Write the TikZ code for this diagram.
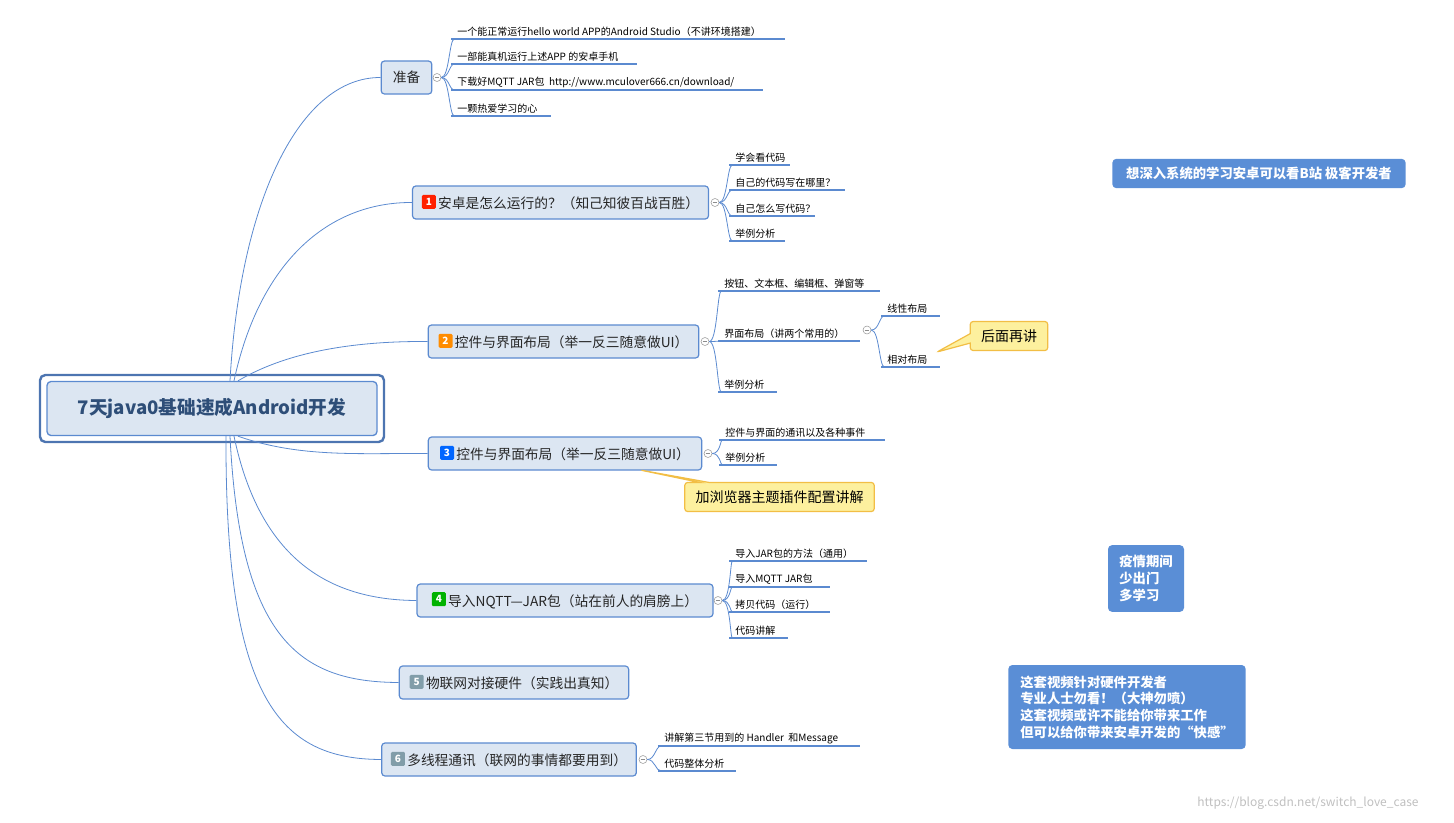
\documentclass[tikz,border=0pt]{standalone}
\usepackage{fontspec}
\setmainfont{Noto Sans CJK SC}
\usetikzlibrary{shapes.callouts}
\definecolor{ln}{HTML}{5B8AD0}
\definecolor{tfill}{HTML}{DCE6F2}
\definecolor{bluebox}{HTML}{5A8ED6}
\definecolor{yfill}{HTML}{FDF09E}
\definecolor{yline}{HTML}{F2BE45}
\definecolor{roottxt}{HTML}{2E4E78}
\tikzset{
  topic/.style={draw=ln,fill=tfill,rounded corners=2.5pt,line width=0.9pt,minimum height=24.75pt,inner xsep=4pt,font=\fontsize{10.3}{13}\selectfont,text=black!85},
  leaftxt/.style={anchor=south west,inner sep=1.5pt,font=\fontsize{7.5}{9}\selectfont},
  uline/.style={draw=ln,line width=1.2pt},
  br/.style={draw=ln,line width=0.6pt},
  coll/.style={circle,draw=black!40,fill=white,inner sep=0pt,minimum size=6pt,line width=0.4pt},
  badge/.style={fill=#1,text=white,rounded corners=1pt,inner sep=1.5pt,minimum size=10.5pt,font=\fontsize{7.5}{8}\selectfont\bfseries},
  info/.style={fill=bluebox,rounded corners=3pt,text=white,align=left,font=\fontsize{10}{12.5}\selectfont\bfseries,inner xsep=8pt,inner ysep=5pt},
  note/.style={rectangle callout,draw=yline,fill=yfill,line width=0.9pt,rounded corners=2pt,font=\fontsize{10.5}{12}\selectfont,inner xsep=8pt,inner ysep=6pt}
}
\newcommand\mkleaf[6]{% name, collapse node, y, textx, xend, text
  \node[leaftxt] (#1) at (#4,#3) {#6};
  \coordinate (#1e) at (#5,#3);
  \draw[br] (#2.east) .. controls ([xshift=6pt]#2.east) and ([xshift=6pt]#2.east |- #1.south) .. ([xshift=-0.5pt]#1.south west);
  \draw[uline] ([xshift=-3pt]#1.south west) -- (#1e);
}
\begin{document}
\begin{tikzpicture}[x=0.75pt,y=-0.75pt]
\useasboundingbox (0,0) rectangle (1454,822);
% root
\draw[draw=ln!85!black,line width=1.8pt,rounded corners=4pt] (40,375) rectangle (384,442);
\node[draw=ln,fill=tfill,line width=1pt,rounded corners=3pt,minimum width=247.5pt,minimum height=40.5pt,font=\fontsize{14}{16}\selectfont\bfseries,text=roottxt] (root) at (212,408.5) {7天java0基础速成Android开发};
% topics
\node[topic,minimum width=38pt] (t0) at (406.5,77.5) {准备};
\node[topic,minimum width=222pt] (t1) at (560.5,202.5) {\tikz\node[badge=red!75!orange]{1};\,安卓是怎么运行的？（知己知彼百战百胜）};
\node[topic,minimum width=203pt] (t2) at (563.5,341.5) {\tikz\node[badge=orange!90!yellow]{2};\,控件与界面布局（举一反三随意做UI）};
\node[topic,minimum width=205pt] (t3) at (565,453.5) {\tikz\node[badge=blue!60!cyan]{3};\,控件与界面布局（举一反三随意做UI）};
\node[topic,minimum width=222pt] (t4) at (565,600.5) {\tikz\node[badge=green!70!black]{4};\,导入NQTT—JAR包（站在前人的肩膀上）};
\node[topic,minimum width=172pt] (t5) at (514,682.5) {\tikz\node[badge=cyan!25!gray]{5};\,物联网对接硬件（实践出真知）};
\node[topic,minimum width=191pt] (t6) at (509,759.5) {\tikz\node[badge=cyan!25!gray]{6};\,多线程通讯（联网的事情都要用到）};
% root connectors
\draw[br] (root.north) ++(18,0) .. controls (240,200) and (300,77) .. (t0.west);
\draw[br] (root.north) ++(22,0) .. controls (260,260) and (330,202) .. (t1.west);
\draw[br] (root.north) ++(26,0) .. controls (290,350) and (360,341) .. (t2.west);
\draw[br] (root.south) ++(26,0) .. controls (300,458) and (360,453) .. (t3.west);
\draw[br] (root.south) ++(22,0) .. controls (260,560) and (330,600) .. (t4.west);
\draw[br] (root.south) ++(18,0) .. controls (240,640) and (300,682) .. (t5.west);
\draw[br] (root.south) ++(14,0) .. controls (225,700) and (280,759) .. (t6.west);
% collapse circles
\node[coll] (c0) at (437,77.5) {};
\node[coll] (c1) at (715,202.5) {};
\node[coll] (c2) at (705,341.5) {};
\node[coll] (c3) at (708,453.5) {};
\node[coll] (c4) at (718,600.5) {};
\node[coll] (c6) at (643,759.5) {};
\foreach \c in {c0,c1,c2,c3,c4,c6}{\draw[black!45,line width=0.4pt] ([xshift=-1.8pt]\c.center) -- ([xshift=1.8pt]\c.center);}
% leaves
\mkleaf{a1}{c0}{39}{455}{785}{一个能正常运行hello world APP的Android Studio（不讲环境搭建）}
\mkleaf{a2}{c0}{64}{455}{637}{一部能真机运行上述APP 的安卓手机}
\mkleaf{a3}{c0}{90}{455}{763}{下载好MQTT JAR包\ \ http://www.mculover666.cn/download/}
\mkleaf{a4}{c0}{116}{455}{551}{一颗热爱学习的心}
\mkleaf{b1}{c1}{165}{733}{790}{学会看代码}
\mkleaf{b2}{c1}{190}{733}{845}{自己的代码写在哪里？}
\mkleaf{b3}{c1}{216}{733}{815}{自己怎么写代码？}
\mkleaf{b4}{c1}{241}{733}{785}{举例分析}
\mkleaf{d1}{c2}{291}{722}{880}{按钮、文本框、编辑框、弹窗等}
\mkleaf{d2}{c2}{341}{722}{860}{界面布局（讲两个常用的）}
\mkleaf{d3}{c2}{392}{722}{777}{举例分析}
\node[coll] (c2b) at (867,330) {};
\draw[black!45,line width=0.4pt] ([xshift=-1.8pt]c2b.center) -- ([xshift=1.8pt]c2b.center);
\mkleaf{e1}{c2b}{316}{885}{940}{线性布局}
\mkleaf{e2}{c2b}{367}{885}{940}{相对布局}
\mkleaf{f1}{c3}{440}{723}{885}{控件与界面的通讯以及各种事件}
\mkleaf{f2}{c3}{465}{723}{777}{举例分析}
\mkleaf{g1}{c4}{561}{733}{867}{导入JAR包的方法（通用）}
\mkleaf{g2}{c4}{587}{733}{830}{导入MQTT JAR包}
\mkleaf{g3}{c4}{612}{733}{830}{拷贝代码（运行）}
\mkleaf{g4}{c4}{638}{733}{788}{代码讲解}
\mkleaf{h1}{c6}{746}{662}{860}{讲解第三节用到的 Handler\ \ 和Message}
\mkleaf{h2}{c6}{771}{662}{736}{代码整体分析}
% callouts
\coordinate (p1) at (937,352);
\node[note,callout absolute pointer=(p1)] (n1) at (1009,336) {后面再讲};
\coordinate (p2) at (640,470);
\node[note,callout absolute pointer=(p2)] (n2) at (779.5,497) {加浏览器主题插件配置讲解};
% info boxes
\node[info,minimum width=220pt,minimum height=22pt] (i1) at (1259,173.5) {想深入系统的学习安卓可以看B站 极客开发者};
\node[info,minimum width=57pt,minimum height=50pt] (i2) at (1146,578.5) {疫情期间\\少出门\\多学习};
\node[info,minimum width=178pt,minimum height=63pt] (i3) at (1127,707) {这套视频针对硬件开发者\\专业人士勿看！（大神勿喷）\\这套视频或许不能给你带来工作\\但可以给你带来安卓开发的“快感”};
\node[text=black!25,font=\fontsize{9}{10}\selectfont] (wm) at (1308,803) {https://blog.csdn.net/switch\_love\_case};
\end{tikzpicture}
\end{document}
